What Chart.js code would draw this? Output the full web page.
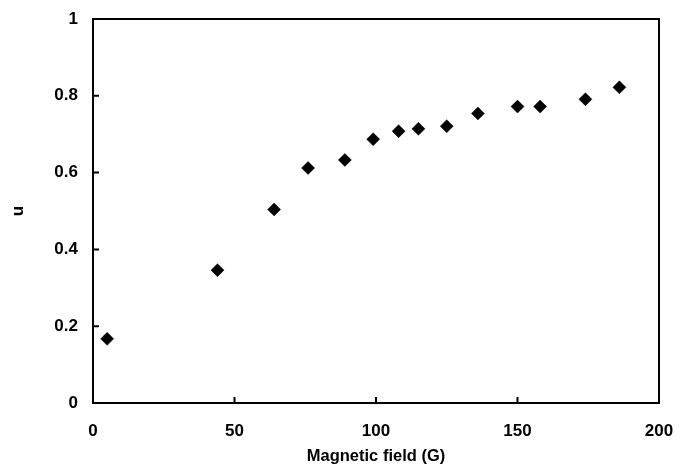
<!DOCTYPE html>
<html lang="en">
<head>
  <meta charset="UTF-8" />
  <title>u vs magnetic field</title>
  <script src="https://cdn.jsdelivr.net/npm/chart.js@4"></script>
  <style>
    html, body { margin: 0; padding: 0; background: #fff; }
    #wrap { width: 684px; height: 466px; }
  </style>
</head>
<body>
  <div id="wrap"><canvas id="chart"></canvas></div>
  <script>
    // magnetic field (G) and u values
    const fieldG = [5, 44, 64, 76, 89, 99, 108, 115, 125, 136, 150, 158, 174, 186];
    const uValues = [0.167, 0.346, 0.504, 0.612, 0.633, 0.687, 0.708, 0.714, 0.721, 0.754, 0.772, 0.772, 0.791, 0.822];
    const xTicks = [0, 50, 100, 150, 200];
    const yTicks = [0, 0.2, 0.4, 0.6, 0.8, 1];

    const font = 'Liberation Sans, Arial, sans-serif';

    // frame round the plot area plus short inward tick marks
    const framePlugin = {
      id: 'frame',
      afterDraw(chart) {
        const { ctx, chartArea: a, scales } = chart;
        ctx.save();
        ctx.strokeStyle = '#000';
        ctx.lineWidth = 2;
        ctx.strokeRect(a.left, a.top, a.right - a.left, a.bottom - a.top);
        ctx.beginPath();
        xTicks.slice(1, -1).forEach(v => {
          const px = scales.x.getPixelForValue(v);
          ctx.moveTo(px, a.bottom);
          ctx.lineTo(px, a.bottom - 6);
        });
        yTicks.slice(1, -1).forEach(v => {
          const py = scales.y.getPixelForValue(v);
          ctx.moveTo(a.left, py);
          ctx.lineTo(a.left + 6, py);
        });
        ctx.stroke();
        ctx.restore();
      }
    };

    new Chart(document.getElementById('chart'), {
      type: 'scatter',
      data: {
        datasets: [{
          data: fieldG.map((x, i) => ({ x: x, y: uValues[i] })),
          pointStyle: 'rectRot',
          pointRadius: 6.5,
          pointBackgroundColor: '#000',
          pointBorderColor: '#000',
          pointBorderWidth: 0.5
        }]
      },
      options: {
        responsive: true,
        maintainAspectRatio: false,
        animation: false,
        layout: { padding: { top: 19, right: 25, left: 0, bottom: 0 } },
        plugins: { legend: { display: false }, tooltip: { enabled: false } },
        scales: {
          x: {
            type: 'linear',
            min: 0, max: 200,
            afterBuildTicks: s => { s.ticks = xTicks.map(v => ({ value: v })); },
            afterFit: s => { s.height = 63; s.paddingLeft = 0; s.paddingRight = 0; },
            grid: { display: false, drawTicks: false },
            border: { display: false },
            ticks: {
              color: '#000',
              padding: 18,
              font: { family: font, size: 17, weight: 'bold' }
            },
            title: {
              display: true,
              text: 'Magnetic field (G)',
              color: '#000',
              padding: { top: 7, bottom: 0 },
              font: { family: font, size: 16.5, weight: 'bold' }
            }
          },
          y: {
            type: 'linear',
            min: 0, max: 1,
            afterBuildTicks: s => { s.ticks = yTicks.map(v => ({ value: v })); },
            afterFit: s => { s.width = 93; s.paddingTop = 0; s.paddingBottom = 0; },
            grid: { display: false, drawTicks: false },
            border: { display: false },
            ticks: {
              color: '#000',
              padding: 15,
              font: { family: font, size: 17, weight: 'bold' },
              callback: v => String(v)
            },
            title: {
              display: true,
              text: 'u',
              color: '#000',
              padding: { top: 8, bottom: 0 },
              font: { family: font, size: 17, weight: 'bold' }
            }
          }
        }
      },
      plugins: [framePlugin]
    });
  </script>
</body>
</html>
